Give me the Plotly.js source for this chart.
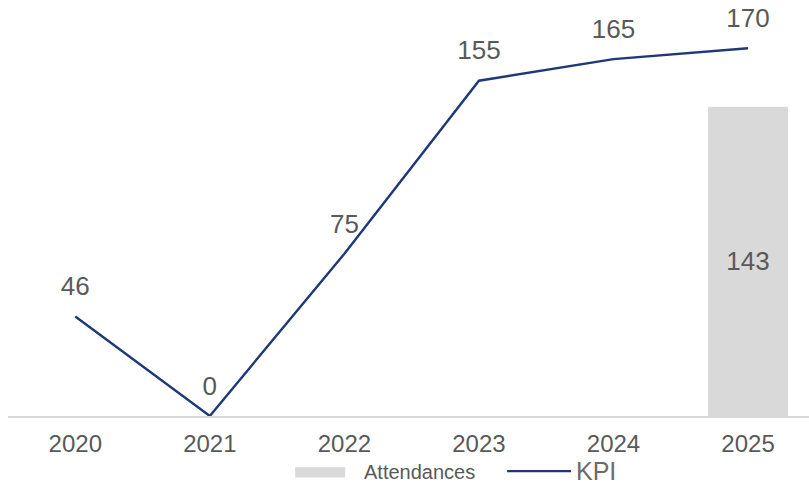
<!DOCTYPE html>
<html>
<head>
<meta charset="utf-8">
<script src="https://cdn.plot.ly/plotly-3.0.1.min.js"></script>
<style>
  html, body { margin: 0; padding: 0; background: #ffffff; }
  #chart { width: 809px; height: 484px; }
</style>
</head>
<body>
<div id="chart"></div>
<script>
const years = ['2020', '2021', '2022', '2023', '2024', '2025'];
const attendances = [null, null, null, null, null, 143];
const kpi = [46, 0, 75, 155, 165, 170];
const attendancesName = 'Attendances';
const kpiName = 'KPI';

const textColor = '#595959';
const fontFamily = '"Liberation Sans", Arial, sans-serif';

// pixel -> paper helpers for the hand-drawn legend
const W = 809, H = 484;
const M = { l: 7.7, r: 0, t: 5, b: 67.5 };
const pw = W - M.l - M.r, ph = H - M.t - M.b;
const px = X => (X - M.l) / pw;
const py = Y => (H - M.b - Y) / ph;

const traces = [
  {
    type: 'bar',
    name: attendancesName,
    x: years,
    y: attendances,
    width: 0.594,
    marker: { color: '#d9d9d9' },
    text: attendances.map(v => v == null ? '' : String(v)),
    textposition: 'inside',
    insidetextanchor: 'middle',
    textfont: { family: fontFamily, size: 26, color: textColor },
    showlegend: false,
    hoverinfo: 'skip'
  },
  {
    type: 'scatter',
    mode: 'lines+markers+text',
    name: kpiName,
    x: years,
    y: kpi,
    line: { color: '#1f3877', width: 2.4 },
    marker: { size: 22, color: 'rgba(0,0,0,0)', line: { width: 0 } },
    text: kpi.map(String),
    textposition: 'top center',
    textfont: { family: fontFamily, size: 26, color: textColor },
    cliponaxis: false,
    showlegend: false,
    hoverinfo: 'skip'
  }
];

const layout = {
  width: W,
  height: H,
  margin: M,
  paper_bgcolor: '#ffffff',
  plot_bgcolor: '#ffffff',
  showlegend: false,
  font: { family: fontFamily, color: textColor },
  xaxis: {
    type: 'category',
    range: [-0.5, 5.453],
    showgrid: false,
    zeroline: false,
    showline: true,
    linecolor: '#d9d9d9',
    linewidth: 2,
    ticks: '',
    ticklabelstandoff: 5,
    tickfont: { family: fontFamily, size: 24, color: textColor },
    fixedrange: true
  },
  yaxis: {
    range: [0, 190],
    visible: false,
    showgrid: false,
    zeroline: false,
    fixedrange: true
  },
  shapes: [
    {
      type: 'rect', xref: 'paper', yref: 'paper',
      x0: px(295), x1: px(345), y0: py(478), y1: py(467.7),
      fillcolor: '#d9d9d9', line: { width: 0 }
    },
    {
      type: 'line', xref: 'paper', yref: 'paper',
      x0: px(507), x1: px(571), y0: py(471.7), y1: py(471.7),
      line: { color: '#1f3877', width: 2.4 }
    }
  ],
  annotations: [
    {
      xref: 'paper', yref: 'paper', x: px(362), y: py(472.5),
      xanchor: 'left', yanchor: 'middle', showarrow: false,
      text: attendancesName,
      font: { family: fontFamily, size: 20, color: textColor }
    },
    {
      xref: 'paper', yref: 'paper', x: px(574), y: py(472),
      xanchor: 'left', yanchor: 'middle', showarrow: false,
      text: kpiName,
      font: { family: fontFamily, size: 25, color: '#6b6b6b' }
    }
  ]
};

Plotly.newPlot('chart', traces, layout, { displayModeBar: false, staticPlot: true });
</script>
</body>
</html>
